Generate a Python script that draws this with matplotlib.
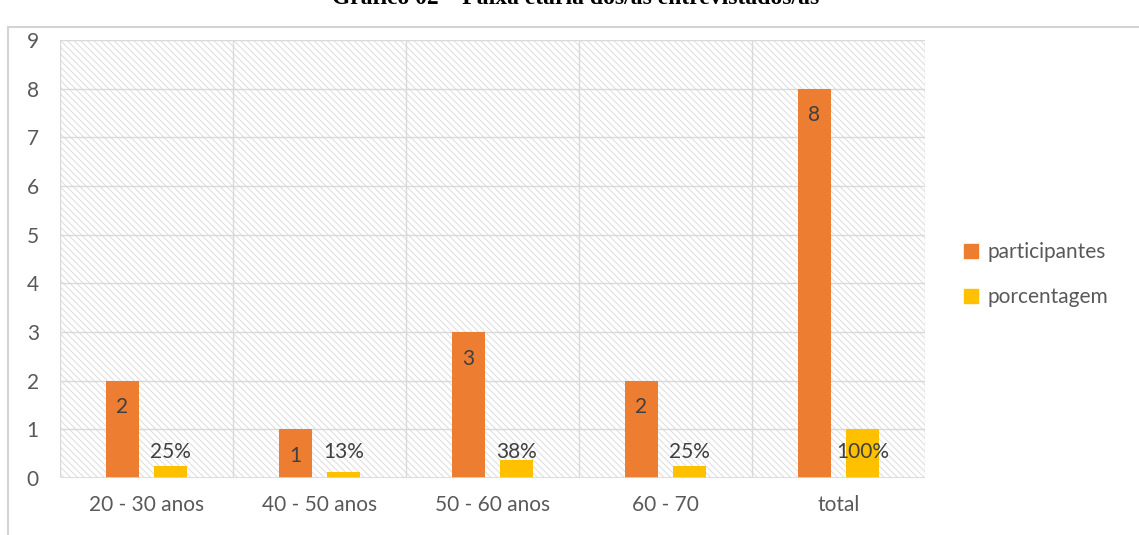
import numpy as np
import matplotlib
matplotlib.use('Agg')
import matplotlib.pyplot as plt
from matplotlib.patches import Rectangle
from matplotlib.lines import Line2D

plt.rcParams['font.family'] = ['Lato', 'DejaVu Sans']
plt.rcParams['hatch.linewidth'] = 0.7
plt.rcParams['hatch.color'] = '#dcdcdc'

categories = ['20 - 30 anos', '40 - 50 anos', '50 - 60 anos', '60 - 70', 'total']
participantes = [2, 1, 3, 2, 8]
porcentagem = [0.25, 0.125, 0.375, 0.25, 1.0]
pct_labels = ['25%', '13%', '38%', '25%', '100%']

orange = '#ED7D31'
yellow = '#FFC000'
txt = '#595959'
grid = '#d9d9d9'

fig = plt.figure(figsize=(11.39, 5.35), dpi=100)
ax = fig.add_axes([60 / 1139, 57 / 535, 865 / 1139, 438 / 535])

x = np.arange(len(categories))
bw = 0.19
off = 0.14

# hatched background
ax.add_patch(Rectangle((0, 0), 1, 1, transform=ax.transAxes, facecolor='white',
                       edgecolor='#dcdcdc', hatch='\\\\\\\\\\', linewidth=0, zorder=0))

for yy in range(1, 10):
    ax.axhline(yy, color=grid, lw=1, zorder=1)
for xx in np.arange(0.5, len(categories), 1):
    ax.axvline(xx, color=grid, lw=1, zorder=1)
ax.axvline(-0.5, color=grid, lw=1, zorder=1)
ax.axhline(0, color=grid, lw=1.2, zorder=3)

ax.bar(x - off, participantes, bw, color=orange, zorder=2, label='participantes')
ax.bar(x + off, porcentagem, bw, color=yellow, zorder=2, label='porcentagem')

for i in range(len(categories)):
    ax.text(x[i] - off, participantes[i] - 0.55, str(participantes[i]), ha='center',
            va='center', fontsize=15, color='#404040', zorder=4)
    ax.text(x[i] + off, 0.53, pct_labels[i], ha='center', va='center',
            fontsize=15, color='#404040', zorder=4)

ax.set_xlim(-0.5, len(categories) - 0.5)
ax.set_ylim(0, 9)
ax.set_yticks(range(0, 10))
ax.set_xticks(x)
ax.set_xticklabels(categories)
ax.tick_params(axis='both', length=0, labelsize=15, labelcolor=txt)
ax.tick_params(axis='x', pad=12)
ax.tick_params(axis='y', pad=24)
for lbl in ax.get_yticklabels():
    lbl.set_horizontalalignment('left')
for s in ax.spines.values():
    s.set_visible(False)

handles = [Line2D([], [], marker='s', linestyle='none', markersize=10, color=orange),
           Line2D([], [], marker='s', linestyle='none', markersize=10, color=yellow)]
fig.legend(handles, ['participantes', 'porcentagem'], loc='center left',
           bbox_to_anchor=(940 / 1139, 1 - 275 / 535), frameon=False, fontsize=15,
           labelcolor=txt, handletextpad=0.2, labelspacing=1.2, handlelength=1.2)

# chart frame
fig.add_artist(Line2D([8 / 1139, 8 / 1139], [0, 1 - 27 / 535], color='#d4d4d4', lw=1.5,
                      transform=fig.transFigure))
fig.add_artist(Line2D([8 / 1139, 1], [1 - 27 / 535, 1 - 27 / 535], color='#d4d4d4', lw=1.5,
                      transform=fig.transFigure))

# title, cut at the top edge as in the source
fig.text(576 / 1139, 1 - 4 / 535, 'Gráfico 02 – Faixa etária dos/as entrevistados/as',
         ha='center', va='baseline', fontsize=17, fontweight='bold',
         family='Liberation Serif', color='black')

fig.savefig('out.png', dpi=100)
